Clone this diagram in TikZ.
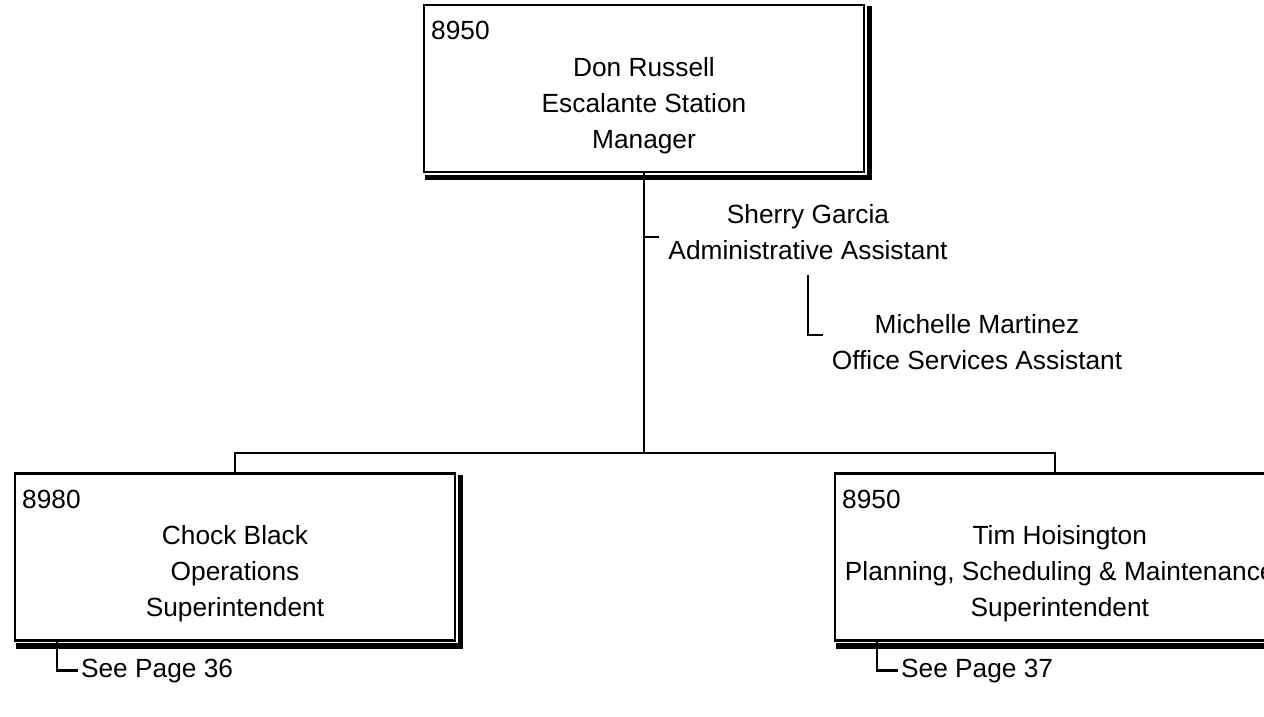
\documentclass[tikz,border=0pt]{standalone}
\usepackage{fontspec}
\setmainfont{Liberation Sans}
\usepackage{tikz}
\usetikzlibrary{positioning,calc}

\begin{document}
\begin{tikzpicture}[
  orgbox/.style={draw, line width=1.5pt, fill=white, minimum width=11cm, minimum height=4.175cm, inner sep=0pt},
  boxshade/.style={line width=3.8pt},
  boxtxt/.style={font=\fontsize{18.7}{25.6}\selectfont, align=center, inner sep=0pt},
  num/.style={font=\fontsize{18.7}{25.6}\selectfont, anchor=base west, inner sep=0pt},
  lbl/.style={font=\fontsize{18.7}{25.6}\selectfont, align=center, inner sep=0.22cm},
  see/.style={font=\fontsize{18.7}{25.6}\selectfont, anchor=west, inner sep=2pt},
  link/.style={line width=1.6pt},
]
\useasboundingbox (0,0) rectangle (31.6,17.925);
\node[orgbox] (mgr) at (16.1,15.7125) {};
\node[orgbox] (ops) at (5.875,4.0) {};
\node[orgbox] (psm) at (26.375,4.0) {};
\foreach \b in {mgr,ops,psm} {
  \draw[boxshade] ([shift={(0.115,-0.06)}]\b.north east) -- ([shift={(0.115,-0.115)}]\b.south east) -- ([shift={(0.05,-0.115)}]\b.south west);
}
\node[num] (mgrnum) at ([shift={(0.2,-0.9)}]mgr.north west) {8950};
\node[boxtxt] (mgrtxt) at ([yshift=-0.44cm]mgr.center) {Don Russell\\Escalante Station\\Manager};
\node[num] (opsnum) at ([shift={(0.2,-0.9)}]ops.north west) {8980};
\node[boxtxt] (opstxt) at ([yshift=-0.42cm]ops.center) {Chock Black\\Operations\\Superintendent};
\node[num] (psmnum) at ([shift={(0.2,-0.9)}]psm.north west) {8950};
\node[boxtxt] (psmtxt) at ([shift={(0.12,-0.42)}]psm.center) {Tim Hoisington\\Planning, Scheduling \& Maintenance\\Superintendent};

\coordinate (bar) at (16.1,6.6);
\draw[link] (mgr.south) -- (bar);
\draw[link] (ops.north) |- (bar) -| (psm.north);

\node[lbl] (sherry) at (20.2,12.125) {Sherry Garcia\\Administrative Assistant};
\node[lbl] (michelle) at (24.425,9.3625) {Michelle Martinez\\Office Services Assistant};
\draw[link] ([yshift=-0.12cm]sherry.west -| bar) -- ([yshift=-0.12cm]sherry.west);
\draw[link] ([yshift=-0.15cm]sherry.south) |- ([yshift=0.19cm]michelle.west);

\node[see] (seeops) at (1.95,1.16) {See Page 36};
\node[see] (seepsm) at (22.45,1.16) {See Page 37};
\draw[link] ([xshift=-4.45cm]ops.south) |- (seeops.west);
\draw[link] ([xshift=-4.45cm]psm.south) |- (seepsm.west);
\end{tikzpicture}
\end{document}
